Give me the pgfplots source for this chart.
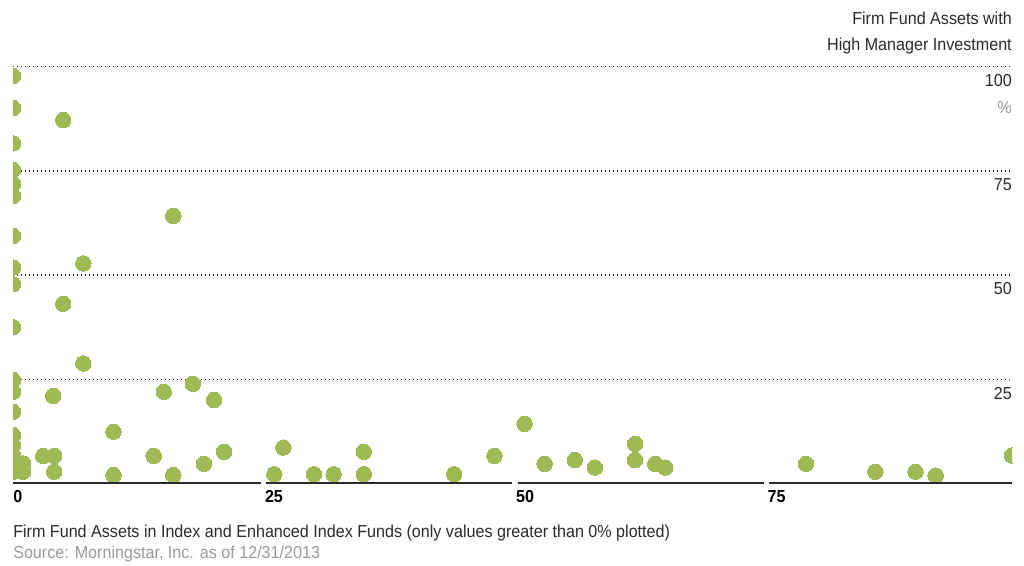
\documentclass[border=0pt]{standalone}
\usepackage{fontspec}
\setmainfont{Liberation Sans}[FakeStretch=0.93]
\usepackage{pgfplots}
\pgfplotsset{compat=1.18}
\definecolor{ptgreen}{HTML}{9FBA55}
\definecolor{txtdark}{HTML}{2B2B2B}
\definecolor{txtgray}{HTML}{9A9A9A}
\begin{document}
\begin{tikzpicture}
\useasboundingbox (-9.75pt,-61.2pt) rectangle (758.25pt,362.55pt);
\begin{axis}[
  at={(0,0)}, anchor=south west,
  scale only axis, width=749.25pt, height=312.5pt,
  xmin=0, xmax=99.4, ymin=0, ymax=100,
  axis line style={draw=none},
  major tick length=0pt,
  xtick=\empty,
  ytick={25,50,75,100}, yticklabels={},
  ymajorgrids,
  grid style={black!85, line width=0.9pt, dash pattern=on 0.8pt off 2.2pt},
  clip marker paths=true,
]
\addplot[only marks, color=ptgreen, mark=*, mark size=5.8pt, mark options={fill=ptgreen, draw=ptgreen, line width=0pt}] coordinates {
(0,97.8) (0,90.1) (0,81.6) (0,75.2) (0,71.9) (0,69.0) (0,59.4) (0,51.8) (0,47.8)
(0,37.5) (0,24.8) (0,22.0) (0,17.2) (0,11.6) (0,9.2) (0,6.8) (0,4.9) (0,2.8)
(1.0,4.8) (1.0,2.8)
(3.0,6.6) (4.1,6.6) (4.1,2.8) (10.0,12.4) (10.0,2.0) (14.0,6.6) (15.95,2.0) (19.0,4.7) (21.0,7.6)
(15.0,22.0) (17.9,23.9) (20.0,20.0) (15.95,64.2) (7.0,52.8) (5.0,43.1) (7.0,28.8) (4.0,21.0) (5.0,87.2)
(26.0,2.2) (26.9,8.6) (29.95,2.2) (31.9,2.2) (34.9,7.6) (34.9,2.2) (43.9,2.2) (47.9,6.6)
(50.9,14.3) (52.9,4.7) (55.9,5.6) (57.9,3.8) (61.9,9.5) (61.9,5.6) (63.9,4.7) (64.9,3.8)
(78.9,4.7) (85.8,2.8) (89.8,2.8) (91.8,1.9) (99.4,6.7)
};
\end{axis}
% baseline segments
\draw[txtdark, line width=1.5pt] (0pt,0pt) -- (186.2pt,0pt);
\draw[txtdark, line width=1.5pt] (189.9pt,0pt) -- (374.6pt,0pt);
\draw[txtdark, line width=1.5pt] (378.4pt,0pt) -- (563.1pt,0pt);
\draw[txtdark, line width=1.5pt] (566.8pt,0pt) -- (749.25pt,0pt);
% x tick labels
\foreach \xx/\lab in {0/0,188.8/25,377.2/50,565.7/75}
  \node[anchor=base west, inner sep=0pt, font=\fontsize{13}{15}\selectfont\bfseries, text=black] at (\xx pt,-13.95pt) {\lab};
% right labels
\foreach \yy/\lab in {312.5/100,234.4/75,156.25/50,78.1/25}
  \node[anchor=base east, inner sep=0pt, font=\fontsize{13}{15}\selectfont, text=txtdark] at (749.25pt,\yy pt-14.8pt) {\lab};
\node[anchor=base east, inner sep=0pt, font=\fontsize{13}{15}\selectfont, text=txtgray] at (749.25pt,277.05pt) {\%};
% title
\node[anchor=base east, inner sep=0pt, font=\fontsize{13}{15}\selectfont, text=txtdark] at (749.25pt,344.2pt) {Firm Fund Assets with};
\node[anchor=base east, inner sep=0pt, font=\fontsize{13}{15}\selectfont, text=txtdark] at (749.25pt,324.7pt) {High Manager Investment};
% captions
\node[anchor=base west, inner sep=0pt, font=\fontsize{13}{15}\selectfont, text=txtdark] at (0pt,-40.6pt) {Firm Fund Assets in Index and Enhanced Index Funds (only values greater than 0\% plotted)};
\node[anchor=base west, inner sep=0pt, font=\fontsize{13}{15}\selectfont, text=txtgray] at (0pt,-56.3pt) {Source: Morningstar, Inc. as of 12/31/2013};
\end{tikzpicture}
\end{document}
